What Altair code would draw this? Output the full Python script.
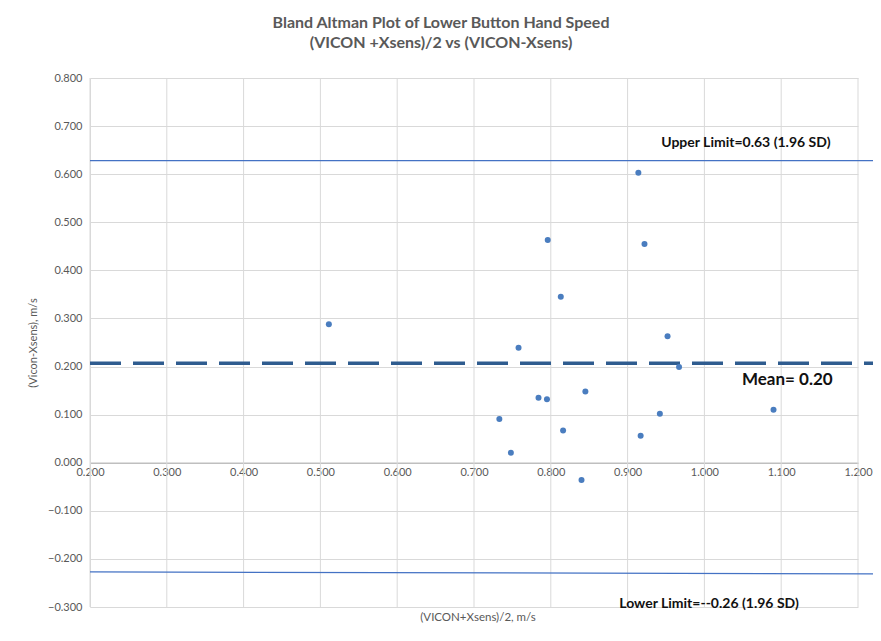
import altair as alt
import pandas as pd

# ---- data ----
mean_x = [0.914, 0.796, 0.922, 0.813, 0.733, 0.748, 0.758, 0.784, 0.795,
          0.816, 0.840, 0.845, 0.917, 0.942, 0.952, 0.967, 1.090, 0.511]
diff_y = [0.603, 0.463, 0.455, 0.345, 0.091, 0.021, 0.239, 0.135, 0.132,
          0.067, -0.036, 0.148, 0.056, 0.102, 0.263, 0.199, 0.110, 0.288]

x_ticks = [0.2, 0.3, 0.4, 0.5, 0.6, 0.7, 0.8, 0.9, 1.0, 1.1, 1.2]
y_ticks = [-0.3, -0.2, -0.1, 0.0, 0.1, 0.2, 0.3, 0.4, 0.5, 0.6, 0.7, 0.8]

line_x = [0.2, 1.225]
mean_y = [0.207, 0.207]
upper_y = [0.628, 0.628]
lower_y = [-0.227, -0.231]

label_text = ["Upper Limit=0.63 (1.96 SD)", "Mean= 0.20", "Lower Limit=--0.26 (1.96 SD)"]
label_x = [1.054, 1.108, 1.006]
label_y = [0.665, 0.172, -0.294]
label_size = [14, 17, 14]

title_lines = ["Bland Altman Plot of Lower Button Hand Speed", "(VICON +Xsens)/2 vs (VICON-Xsens)"]
x_title = "(VICON+Xsens)/2, m/s"
y_title = "(Vicon-Xsens), m/s"

W, H = 768, 529
GRAY = "#595959"
GRID = "#d9d9d9"

xs = alt.Scale(domain=[0.2, 1.2], nice=False, zero=False)
ys = alt.Scale(domain=[-0.3, 0.8], nice=False, zero=False)

x_axis_offset = -(H * (0.3 / 1.1))

pts_df = pd.DataFrame({"x": mean_x, "y": diff_y})
vgrid_df = pd.DataFrame({"x": x_ticks})
mean_df = pd.DataFrame({"x": line_x, "y": mean_y})
upper_df = pd.DataFrame({"x": line_x, "y": upper_y})
lower_df = pd.DataFrame({"x": line_x, "y": lower_y})
lab_df = pd.DataFrame({"t": label_text, "x": label_x, "y": label_y, "s": label_size})
xt_df = pd.DataFrame({"t": [x_title]})

vgrid = alt.Chart(vgrid_df).mark_rule(color=GRID, strokeWidth=1).encode(
    x=alt.X("x:Q", scale=xs),
    y=alt.datum(-0.3, scale=ys),
    y2=alt.datum(0.8),
)

points = alt.Chart(pts_df).mark_circle(size=36, color="#4A7DBF", opacity=1).encode(
    x=alt.X("x:Q", scale=xs, axis=alt.Axis(
        values=x_ticks, format=".3f", offset=x_axis_offset, grid=False, ticks=False,
        domainColor="#bfbfbf", domainWidth=1.5, labelColor=GRAY, labelFontSize=11,
        labelPadding=4, labelFlush=False, labelOverlap=False, title=None)),
    y=alt.Y("y:Q", scale=ys, axis=alt.Axis(
        values=y_ticks, format=".3f", grid=True, gridColor=GRID, ticks=False,
        domainColor=GRID, labelColor=GRAY, labelFontSize=11, labelPadding=8,
        labelFlush=False, labelOverlap=False, title=y_title, titleFontSize=11,
        titleFontWeight="normal", titleColor=GRAY, titlePadding=9)),
)

upper = alt.Chart(upper_df).mark_line(color="#4472C4", strokeWidth=1.2).encode(
    x=alt.X("x:Q", scale=xs), y=alt.Y("y:Q", scale=ys))
lower = alt.Chart(lower_df).mark_line(color="#4472C4", strokeWidth=1.2).encode(
    x=alt.X("x:Q", scale=xs), y=alt.Y("y:Q", scale=ys))
mean = alt.Chart(mean_df).mark_line(color="#2F5C8F", strokeWidth=3.5, strokeDash=[31, 12]).encode(
    x=alt.X("x:Q", scale=xs), y=alt.Y("y:Q", scale=ys))

labels = alt.Chart(lab_df).mark_text(fontWeight="bold", color="#111111", align="center",
                                      baseline="middle").encode(
    x=alt.X("x:Q", scale=xs), y=alt.Y("y:Q", scale=ys), text="t:N",
    size=alt.Size("s:Q", scale=None, legend=None))

xtitle = alt.Chart(xt_df).mark_text(fontSize=11.5, color=GRAY, align="center", baseline="middle").encode(
    x=alt.value(W / 2 + 4), y=alt.value(H + 11), text="t:N")

chart = alt.layer(vgrid, upper, lower, mean, points, labels, xtitle).properties(
    width=W, height=H,
    title=alt.TitleParams(text=title_lines, fontSize=16, fontWeight="bold", color=GRAY,
                          anchor="middle", dx=-33, offset=21, lineHeight=20),
    autosize=alt.AutoSizeParams(type="none"),
    padding={"left": 82, "top": 70, "right": 15, "bottom": 22},
).configure(font="Lato").configure_view(stroke=None)

chart.save("out.html", embed_options={"renderer": "svg", "actions": False})
